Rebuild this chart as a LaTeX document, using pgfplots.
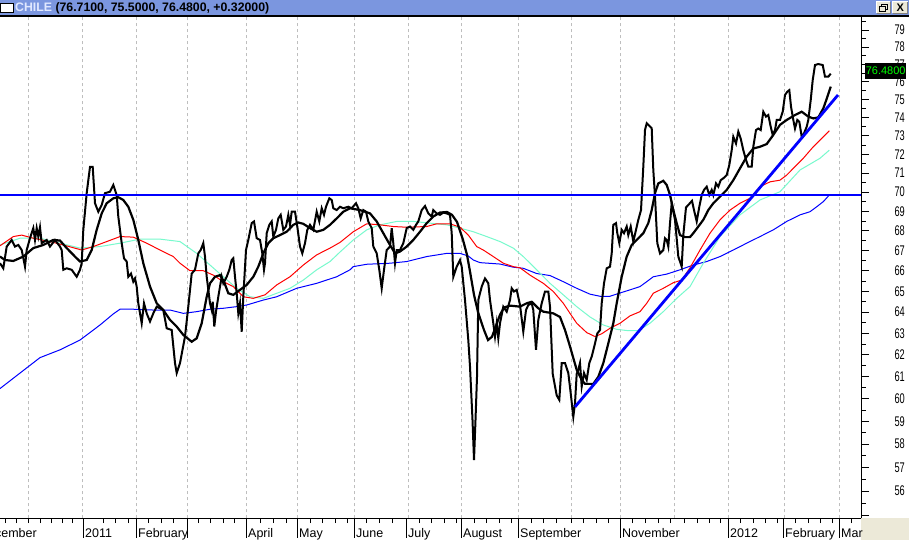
\documentclass[border=0pt]{standalone}
\usepackage{fontspec}
\setmainfont{Liberation Sans}
\newfontfamily\narrowfont[FakeStretch=0.66]{Liberation Sans}
\usepackage{pgfplots}
\pgfplotsset{compat=1.18}
\definecolor{titlebar}{RGB}{123,150,223}
\definecolor{titletext}{RGB}{225,232,255}
\definecolor{winbeige}{RGB}{236,233,216}
\definecolor{maaqua}{RGB}{120,250,205}
\definecolor{gridgray}{RGB}{190,190,190}
\definecolor{boxgreen}{RGB}{0,255,0}
\begin{document}
\begin{tikzpicture}
\useasboundingbox (0pt,0pt) rectangle (909pt,540pt);
\fill[white] (0pt,0pt) rectangle (909pt,540pt);
\fill[winbeige] (861pt,0pt) rectangle (909pt,21.5pt);
\begin{axis}[
  at={(0pt,21.5pt)}, anchor=south west,
  scale only axis, width=861pt, height=501.5pt,
  xmin=0, xmax=861,
  y coord trafo/.code={\pgfmathparse{ln(#1)}},
  y coord inv trafo/.code={\pgfmathparse{exp(#1)}},
  ymin=54.86, ymax=79.77,
  axis x line*=bottom, axis y line*=right,
  axis line style={black, line width=0.8pt},
  tick align=outside,
  major tick length=8pt, minor tick length=4.5pt,
  tick style={black, line width=0.8pt},
  xtick={28,82,136,187,246,297,354,408,461,518,571,620,674,728,784,839},
  xticklabels={},
  xmajorgrids,
  major grid style={gridgray, dash pattern=on 3pt off 3pt, line width=0.8pt},
  every major x tick/.append style={draw=none},
  minor xtick={5,16,28,40,51,62,72,103,115,128,148,161,173,198,210,223,234,260,273,286,310,322,335,347,366,379,392,419,431,444,456,474,486,499,511,531,543,556,571,583,596,608,632,645,658,670,684,697,709,720,740,753,765,777,795,808,820,832,851},
  extra x ticks={83,136,187,246,297,354,406,461,518,620,728,783,839},
  extra x tick labels={2011,February,,April,May,June,July,August,September,November,2012,February,Mar},
  extra x tick style={grid=none, major tick length=19pt, every major x tick/.append style={draw=black}},
  xticklabel style={anchor=base west, inner sep=0pt, xshift=2pt, font=\fontsize{12.5}{13}\selectfont},
  ytick={55,56,57,58,59,60,61,62,63,64,65,66,67,68,69,70,71,72,73,74,75,76,77,78,79},
  yticklabels={,56,57,58,59,60,61,62,63,64,65,66,67,68,69,70,71,72,73,74,75,76,77,78,79},
  minor ytick={55.5,56.5,57.5,58.5,59.5,60.5,61.5,62.5,63.5,64.5,65.5,66.5,67.5,68.5,69.5,70.5,71.5,72.5,73.5,74.5,75.5,76.5,77.5,78.5,79.5},
  yticklabel style={anchor=east, inner sep=0pt, xshift=36pt, font=\narrowfont\fontsize{14}{15}\selectfont},
]
% long moving average (blue)
\addplot[blue, line width=1pt] coordinates {
(0,60.45)(20,61.15)(40,61.86)(60,62.22)(80,62.68)(100,63.39)(113.3,63.91)(120,64.14)(133.3,64.14)(153.3,64.10)(170,64.10)(183.3,63.94)(196.7,64.02)(210,64.14)(223.3,64.18)(236.7,64.26)(246.7,64.34)(263.3,64.58)(276.7,64.74)(296.7,65.15)(316.7,65.39)(336.7,65.71)(350,66.05)(353.3,66.21)(366.7,66.33)(390,66.38)(406.7,66.46)(426.7,66.71)(446.7,66.87)(460,66.87)(468.3,66.74)(473.3,66.54)(480,66.41)(500,66.34)(513.3,66.18)(523.3,66.13)(536.7,65.87)(550,65.77)(563.3,65.47)(576.7,65.15)(590,64.86)(600,64.76)(610,64.76)(620,64.92)(630,65.07)(640,65.23)(646.7,65.47)(653.3,65.71)(666.7,65.84)(680,66.05)(693.3,66.29)(706.7,66.46)(720,66.71)(733.3,67.04)(746.7,67.38)(760,67.71)(773.3,68.05)(786.7,68.48)(800,68.82)(810,68.98)(816.7,69.24)(823.3,69.50)(829.3,69.85)};
% medium moving average (aqua)
\addplot[maaqua, line width=1pt] coordinates {
(0,67.29)(20,67.63)(40,67.63)(60,67.38)(80,67.13)(100,67.21)(120,67.38)(140,67.58)(160,67.58)(180,67.46)(196.7,66.87)(210,66.29)(223.3,65.71)(236.7,65.15)(250,64.74)(263.3,64.66)(276.7,64.91)(290,65.15)(303.3,65.55)(316.7,66.05)(330,66.46)(340,66.94)(353.3,67.54)(366.7,68.05)(380,68.31)(396.7,68.48)(413.3,68.48)(430,68.39)(446.7,68.31)(460,68.14)(473.3,67.96)(486.7,67.71)(500,67.46)(513.3,67.13)(523.3,66.71)(536.7,66.05)(550,65.39)(563.3,64.83)(576.7,64.26)(590,63.77)(603.3,63.39)(616.7,63.18)(628.3,63.12)(638.3,63.12)(650,63.47)(663.3,64.02)(676.7,64.66)(690,65.23)(703.3,66.38)(720,67.71)(740,68.82)(760,69.59)(780,70.02)(800,71.16)(820,71.79)(829.3,72.23)};
% short moving average (red)
\addplot[red, line width=1pt] coordinates {
(0,67.25)(13.3,67.71)(21.7,67.79)(33.3,67.63)(50,67.46)(63.3,67.29)(81.7,67.04)(93.3,67.21)(106.7,67.46)(120,67.71)(133.3,67.68)(146.7,67.38)(160,67.04)(173.3,66.71)(180,66.38)(190,66.01)(203.3,66.01)(213.3,65.79)(223.3,65.47)(233.3,65.23)(243.3,64.74)(253.3,64.66)(265,64.83)(276.7,65.31)(290,65.71)(303.3,66.29)(316.7,66.79)(330,67.13)(340,67.42)(353.3,67.96)(366.7,68.36)(380,68.31)(393.3,68.22)(406.7,68.19)(426.7,68.22)(436.7,68.36)(450,68.36)(460,68.19)(468.3,67.79)(476.7,67.21)(483.3,67.04)(493.3,66.71)(503.3,66.38)(513.3,66.21)(520,66.15)(530,65.79)(543.3,65.39)(553.3,64.99)(563.3,64.42)(570,63.94)(576.7,63.47)(586.7,63.03)(595,62.84)(601.7,62.97)(610,63.23)(620,63.47)(630,63.82)(640,64.02)(646.7,64.42)(653.3,64.91)(663.3,65.15)(673.3,65.42)(681.7,65.55)(690,66.15)(700,67.04)(710,67.88)(720,68.56)(730,69.07)(740,69.42)(750,69.68)(760,70.28)(770,70.54)(780,70.63)(786.7,70.89)(793.3,71.25)(803.3,71.79)(813.3,72.41)(820,72.77)(829.3,73.28)};
% smoothed price (thick black)
\addplot[black, line width=2.2pt] coordinates {
(0,66.71)(5,66.54)(13.3,66.49)(23.3,66.71)(33.3,67.13)(43.3,67.29)(53.3,67.54)(60,67.51)(66.7,67.13)(75,66.71)(80,66.46)(86.7,66.54)(91.7,67.04)(96.7,68.05)(101.7,68.90)(106.7,69.42)(113.3,69.68)(118.3,69.73)(123.3,69.59)(128.3,69.24)(133.3,68.56)(138.3,67.54)(143.3,66.38)(150,65.23)(156.7,64.42)(163.3,64.10)(170,63.63)(176.7,63.31)(183.3,62.92)(191.7,62.60)(196.7,62.76)(201.7,63.47)(206.7,64.74)(210,65.39)(215,65.71)(220,65.79)(224,65.47)(228.3,64.91)(233.3,64.83)(240,65.07)(246.7,65.31)(253.3,65.71)(258.3,66.21)(263.3,66.87)(268.3,67.38)(273.3,67.63)(280,67.79)(286.7,67.96)(293.3,68.31)(298.3,68.43)(303.3,68.36)(310,68.14)(316.7,67.96)(323.3,68.05)(330,68.31)(336.7,68.64)(343.3,68.98)(350,69.16)(360,69.07)(370,68.90)(376.7,68.48)(383.3,67.88)(390,67.29)(395,66.87)(400,66.96)(406.7,67.21)(413.3,67.54)(420,67.96)(426.7,68.39)(433.3,68.73)(440,68.94)(447,68.97)(452,68.82)(457,68.46)(463,67.54)(467,66.79)(470,65.97)(474,64.83)(478,64.00)(484,63.15)(488,62.68)(492,62.83)(496,63.35)(500,63.87)(504,64.22)(510,64.31)(520,64.26)(526.7,64.42)(531.7,64.50)(538.3,64.18)(543.3,64.02)(553.3,63.94)(560,63.77)(565,63.15)(570,62.38)(576.7,61.30)(581.7,60.84)(585,60.66)(593.3,60.66)(598.3,60.98)(603.3,61.61)(608.3,62.52)(613.3,63.47)(616.7,64.42)(621.7,65.71)(626.7,66.71)(631.7,67.29)(636.7,67.54)(643.3,67.88)(648.3,68.39)(651.7,69.07)(655,69.94)(658.3,70.46)(663.3,70.59)(666.7,70.37)(670,69.85)(673.3,69.07)(676.7,68.39)(680,67.79)(685,67.68)(690,67.69)(693.3,67.88)(698.3,68.22)(703.3,68.56)(708.3,69.07)(713.3,69.42)(720,69.76)(726.7,70.11)(733.3,70.63)(740,71.25)(746.7,71.88)(753.3,72.32)(760,72.41)(766.7,72.55)(773.3,73.05)(780,73.60)(786.7,73.87)(795,74.15)(801.7,74.33)(808.3,74.06)(813.3,73.96)(818.3,74.02)(823.3,74.51)(826.7,75.06)(830.7,75.74)};
% price (black)
\addplot[black, line width=2pt] coordinates {
(0,66.38)(3.3,66.13)(6.7,67.21)(11.7,67.54)(15,67.21)(18.3,67.29)(21.7,67.04)(25,66.21)(26.7,67.04)(30,67.63)(33.3,68.14)(35,67.54)(36.7,68.14)(38.3,67.71)(40,68.19)(41.7,67.38)(46.7,67.54)(50,67.21)(55,67.54)(60,67.21)(61.7,67.04)(63.3,66.05)(66.7,66.13)(71.7,66.05)(76.7,65.71)(80,66.05)(81.7,66.38)(83.3,68.05)(86.7,69.94)(90,71.33)(92.7,71.33)(95,69.42)(98.3,68.98)(101.7,69.33)(105,69.94)(110,70.02)(113.3,70.37)(116.7,69.85)(118.3,68.73)(121.7,67.38)(124,66.62)(126.7,66.46)(128.3,65.71)(131,65.87)(133.3,65.47)(135,65.63)(136.7,65.23)(138.3,64.42)(141.7,63.47)(144,64.42)(146.7,63.94)(150,63.55)(153.3,63.94)(156.7,64.26)(160,64.18)(163.3,64.10)(166.7,63.23)(171.7,63.15)(175,61.61)(176.7,61.15)(180,61.61)(185,62.84)(188.3,64.26)(191.7,65.87)(195,66.05)(198.3,66.87)(200.7,67.04)(203.3,67.38)(205,66.71)(206.7,65.71)(210,64.42)(211.7,64.10)(212.7,64.50)(214.3,63.31)(216,64.02)(218.3,64.74)(220,65.23)(221.7,65.71)(223.3,65.39)(226.7,65.71)(229.3,66.05)(231.7,66.54)(233.3,66.62)(235,65.71)(236.7,64.91)(238.3,63.94)(240,64.42)(241.7,63.07)(243.3,64.74)(246,67.04)(248.3,67.54)(251.7,68.39)(254,68.48)(256.7,67.63)(260,67.54)(262.3,66.87)(264,66.05)(265,66.38)(266.7,67.88)(269.3,68.31)(271.7,68.48)(273.3,67.71)(276,68.05)(278.3,68.64)(280.7,68.82)(283.3,68.05)(286,68.22)(288.3,68.82)(290,68.31)(291.7,68.98)(295,68.98)(297.3,68.22)(300,67.21)(302.3,66.87)(305,67.38)(307.3,68.05)(310,68.31)(313.3,68.05)(316.7,68.98)(319.3,68.48)(321.7,69.16)(324,68.82)(326,69.24)(329.3,69.68)(331.7,69.59)(333.3,69.16)(336.7,69.07)(340,69.24)(343.3,69.16)(348.3,69.24)(351.7,69.16)(356,69.42)(358.3,69.16)(360.7,68.64)(363.3,69.07)(366,68.98)(368.3,68.48)(371.7,68.14)(373.3,67.21)(376.7,66.87)(379.3,66.05)(381.7,65.15)(384,66.05)(386.7,67.04)(390,67.21)(391.7,68.14)(393.3,67.38)(395,66.38)(396.7,67.04)(400,67.04)(403.3,67.38)(406.7,68.14)(410,68.22)(413.3,68.05)(416,68.31)(418.3,68.48)(421.7,69.07)(425,69.28)(428.3,68.90)(431.7,68.73)(433.3,69.07)(436.7,68.90)(440,68.82)(443.3,68.94)(446.7,68.90)(450,68.82)(451.7,67.88)(453.3,65.71)(456.7,66.21)(460,66.54)(461.7,66.21)(465,64.58)(468.3,62.68)(470,61.45)(472.5,59.05)(474,57.31)(475.5,59.05)(477,60.98)(478.3,64.58)(481.7,65.23)(485,65.63)(488.3,65.39)(490,64.58)(493.3,63.47)(495,62.84)(496.7,63.47)(498.3,62.76)(500,63.47)(503.3,64.26)(506.7,64.02)(510,64.58)(511.7,65.15)(514,64.99)(516.7,65.07)(520,64.34)(523.3,63.07)(526,64.10)(528.3,64.34)(531.7,64.42)(533.3,64.10)(536,62.22)(538.3,63.63)(541.7,64.42)(545,64.99)(548.3,64.99)(550,64.26)(552.7,61.12)(556.7,60.14)(559.3,59.94)(561.7,61.61)(565,61.61)(568.3,61.15)(570.7,60.24)(573.3,59.19)(575,59.79)(576.7,61.12)(578.3,61.30)(580,61.61)(581.7,60.54)(584,61.15)(586.7,60.84)(589.3,61.61)(591.7,61.91)(595,62.52)(597.3,62.99)(600,63.15)(601.7,64.42)(604,65.39)(606.7,66.13)(610,66.21)(611.7,66.87)(613.3,68.31)(616,68.39)(617.3,67.88)(619.3,67.38)(621.7,68.05)(624,67.88)(626.7,68.22)(628.3,67.79)(630.7,68.22)(633.3,67.46)(636,68.05)(638.3,68.56)(641,69.07)(643.3,71.33)(645,73.32)(646.7,73.69)(650,73.51)(651.7,73.42)(653.3,71.16)(655,69.77)(657.3,67.38)(660,66.87)(663.3,67.04)(665,67.63)(666.7,67.54)(668.3,67.21)(670,68.39)(671.7,69.42)(675,68.56)(678.3,66.71)(681.7,66.21)(683.3,67.79)(686,69.20)(688.3,69.33)(692,69.54)(694,69.07)(696.7,68.48)(699.3,69.24)(701.7,69.85)(704,70.11)(706.7,70.28)(709.3,69.85)(711.7,70.11)(713.3,69.85)(716,70.46)(718.3,70.28)(720.7,70.63)(723.3,70.72)(726.7,70.89)(729.3,71.43)(731.7,72.23)(733.3,72.95)(736,72.59)(738.3,73.23)(740.7,72.86)(743.3,72.23)(746,71.70)(748.3,71.34)(751.7,71.34)(753.3,72.41)(756,73.32)(758.3,73.41)(760.7,73.32)(763.3,74.33)(766,74.06)(768.3,74.15)(770.7,73.50)(772.7,73.05)(775,73.32)(776.7,73.87)(780,73.87)(782.7,74.33)(785,75.27)(787.3,75.45)(789.3,75.54)(791,74.62)(793.3,73.87)(795,73.41)(797.3,73.87)(799.3,73.78)(801.7,72.95)(804,73.14)(806.7,73.50)(808.3,73.87)(810.7,74.98)(812.7,76.11)(815,76.97)(818.3,77.03)(822.7,76.97)(825,76.30)(828.3,76.30)(830.7,76.48)};
% horizontal resistance line and rising trend line
\addplot[blue, line width=2.5pt] coordinates {(0,69.84)(861,69.84)};
\addplot[blue, line width=2.8pt] coordinates {(575,59.63)(838,75.27)};
\end{axis}
% last value box
\node[fill=black, text=boxgreen, inner sep=0pt, minimum width=41pt, minimum height=16.6pt, font=\fontsize{11}{12}\selectfont, anchor=north west] at (865pt,477.3pt) {76.4800};
% clipped date label at the left edge
\node[anchor=base east, inner sep=0pt, font=\fontsize{12.5}{13}\selectfont] at (37pt,2.5pt) {December};
% window title bar
\fill[titlebar] (0pt,525pt) rectangle (909pt,540pt);
\fill[black] (0pt,523pt) rectangle (909pt,525pt);
\filldraw[fill=white, draw=black, line width=1pt] (0.5pt,527.5pt) rectangle (13pt,536pt);
\node[anchor=base west, inner sep=0pt, font=\bfseries\fontsize{12.3}{14}\selectfont] at (15pt,528.3pt) {\textcolor{titletext}{CHILE} (76.7100, 75.5000, 76.4800, +0.32000)};
\fill[winbeige] (876.7pt,526.7pt) rectangle (890pt,538.3pt);
\draw[white, line width=0.8pt] (876.7pt,526.7pt) -- (876.7pt,538.3pt) -- (890pt,538.3pt);
\draw[gray, line width=0.8pt] (876.7pt,526.7pt) -- (890pt,526.7pt) -- (890pt,538.3pt);
\draw[black, line width=0.8pt] (879.5pt,529pt) rectangle (885pt,533.5pt);
\draw[black, line width=0.8pt] (881.5pt,533.5pt) -- (881.5pt,535.5pt) -- (887.3pt,535.5pt) -- (887.3pt,531pt) -- (885pt,531pt);
\fill[winbeige] (892.7pt,526.7pt) rectangle (907.7pt,538.3pt);
\draw[white, line width=0.8pt] (892.7pt,526.7pt) -- (892.7pt,538.3pt) -- (907.7pt,538.3pt);
\draw[gray, line width=0.8pt] (892.7pt,526.7pt) -- (907.7pt,526.7pt) -- (907.7pt,538.3pt);
\node[inner sep=0pt, font=\bfseries\fontsize{11}{12}\selectfont] at (900.2pt,532.5pt) {X};
\end{tikzpicture}
\end{document}
